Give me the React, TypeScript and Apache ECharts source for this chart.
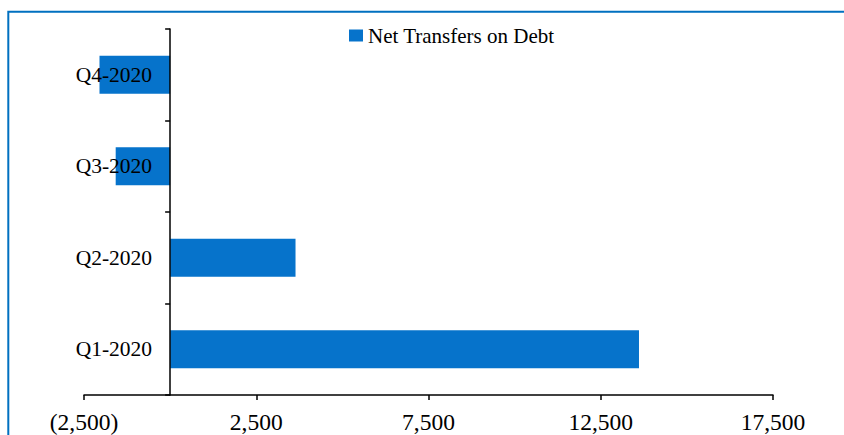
import React, { useEffect, useRef } from "react";
import * as echarts from "echarts";

const categories = ["Q1-2020", "Q2-2020", "Q3-2020", "Q4-2020"];
const netTransfers = [13610, 3640, -1580, -2050];
const seriesName = "Net Transfers on Debt";
const xMin = -2500;
const xMax = 17500;
const xInterval = 5000;

const FONT = "'Liberation Serif', 'Times New Roman', serif";

const GRID_LEFT = 84;
const GRID_RIGHT = 71;
const CHART_W = 844;

function fmt(v: number): string {
  const s = Math.abs(v).toLocaleString("en-US");
  return v < 0 ? `(${s})` : s;
}

export default function App() {
  const ref = useRef<HTMLDivElement>(null);
  useEffect(() => {
    if (!ref.current) return;
    const chart = echarts.init(ref.current, undefined, { renderer: "svg" });
    const plotW = CHART_W - GRID_LEFT - GRID_RIGHT;
    const zeroOffset = ((0 - xMin) / (xMax - xMin)) * plotW;
    chart.setOption({
      animation: false,
      backgroundColor: "#ffffff",
      graphic: [
        {
          type: "rect",
          shape: { x: 8.3, y: 11.8, width: 1000, height: 600 },
          style: { fill: "none", stroke: "#0070C0", lineWidth: 2 },
          z: 0,
        },
      ],
      legend: {
        show: true,
        left: 344,
        top: 20,
        itemWidth: 14,
        itemHeight: 12,
        icon: "rect",
        textStyle: { fontFamily: FONT, fontSize: 21, color: "#000" },
        data: [seriesName],
      },
      grid: {
        left: GRID_LEFT,
        right: GRID_RIGHT,
        top: 29,
        bottom: 40,
        containLabel: false,
        outerBoundsMode: "none",
      },
      xAxis: {
        type: "value",
        min: xMin,
        max: xMax,
        interval: xInterval,
        splitLine: { show: false },
        axisLine: { show: true, lineStyle: { color: "#000", width: 1.5 } },
        axisTick: { show: true, length: 5, lineStyle: { color: "#000", width: 1.5 } },
        axisLabel: {
          fontFamily: FONT,
          fontSize: 23.5,
          color: "#000",
          margin: 15,
          formatter: (v: number) => fmt(v),
        },
      },
      yAxis: {
        type: "category",
        data: categories,
        z: 5,
        offset: -zeroOffset,
        axisLine: { show: true, onZero: false, lineStyle: { color: "#000", width: 1.5 } },
        axisTick: { show: true, length: 5, lineStyle: { color: "#000", width: 1.5 } },
        axisLabel: { fontFamily: FONT, fontSize: 21.5, color: "#000", margin: 18 },
      },
      series: [
        {
          name: seriesName,
          type: "bar",
          data: netTransfers,
          barWidth: 38,
          itemStyle: { color: "#0673CB" },
          z: 2,
        },
      ],
    });
    return () => chart.dispose();
  }, []);
  return (
    <div
      ref={ref}
      style={{ position: "fixed", left: 0, top: 0, width: 844, height: 435 }}
    />
  );
}
